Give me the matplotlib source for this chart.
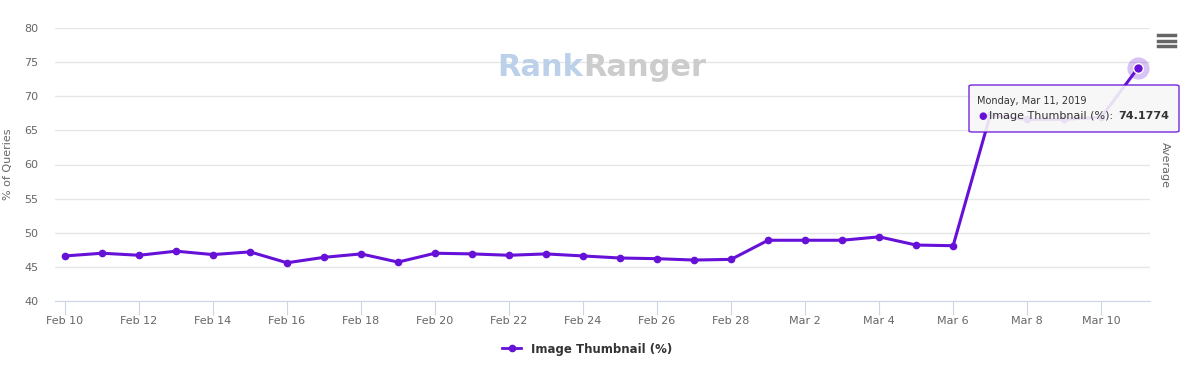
import numpy as np
import matplotlib
matplotlib.use("Agg")
import matplotlib.pyplot as plt
import matplotlib.dates as mdates
from matplotlib.patches import FancyBboxPatch
import datetime as dt

plt.rcParams["font.family"] = "DejaVu Sans"

# data
start = dt.date(2019, 2, 10)
dates = [start + dt.timedelta(days=i) for i in range(30)]
values = [46.6, 47.0, 46.7, 47.3, 46.8, 47.2, 45.6, 46.4, 46.9, 45.7,
          47.0, 46.9, 46.7, 46.9, 46.6, 46.3, 46.2, 46.0, 46.1, 48.9,
          48.9, 48.9, 49.4, 48.2, 48.1, 67.2, 66.6, 66.6, 66.9, 74.1774]
series_name = "Image Thumbnail (%)"
y_ticks = [40, 45, 50, 55, 60, 65, 70, 75, 80]

purple = "#6610d8"
label_c = "#666666"
grid_c = "#e6e6e6"
axis_c = "#ccd6eb"

fig = plt.figure(figsize=(11.89, 3.66), dpi=100)
ax = fig.add_axes([55 / 1189, 1 - 301 / 366, (1150 - 55) / 1189, (301 - 28) / 366])

x = mdates.date2num(dates)
ax.plot(x, values, color=purple, lw=2.2, marker="o", ms=4.5, zorder=3)
# hovered point halo
ax.plot(x[-1], values[-1], "o", ms=16, color=purple, alpha=0.25, mec="none", zorder=2)
ax.plot(x[-1], values[-1], "o", ms=7, color=purple, mec="white", mew=1, zorder=4)

ax.set_ylim(40, 80)
ax.set_xlim(x[0] - 0.27, x[-1] + 0.32)
ax.set_yticks(y_ticks)
ax.set_xticks(x[::2])
ax.xaxis.set_major_formatter(plt.FuncFormatter(
    lambda v, p: mdates.num2date(v).strftime("%b ") + str(mdates.num2date(v).day)))

ax.grid(axis="y", color=grid_c, lw=1)
ax.set_axisbelow(True)
for s in ["top", "right", "left"]:
    ax.spines[s].set_visible(False)
ax.spines["bottom"].set_color(axis_c)
ax.tick_params(axis="y", length=0, labelsize=8, labelcolor=label_c, pad=12)
ax.tick_params(axis="x", length=10, color=axis_c, labelsize=8, labelcolor=label_c, pad=1)

ax.set_ylabel("% of Queries", fontsize=8, color=label_c, labelpad=8)

# right side label
fig.text(1165 / 1189, 1 - 165 / 366, "Average", rotation=270, fontsize=8,
         color=label_c, ha="center", va="center")

# watermark
fig.text(583 / 1189, 1 - 68 / 366, "Rank", fontsize=22, fontweight="bold",
         color="#bcd0ea", ha="right", va="center", zorder=0)
fig.text(583 / 1189, 1 - 68 / 366, "Ranger", fontsize=22, fontweight="bold",
         color="#cccccc", ha="left", va="center", zorder=0)

# menu icon
for yy in [35, 40.5, 46]:
    fig.add_artist(plt.Line2D([1158 / 1189, 1175 / 1189], [1 - yy / 366] * 2,
                              color="#666666", lw=2.5))

# tooltip
tip = FancyBboxPatch((969 / 1189, 1 - 132 / 366), 210 / 1189, 47 / 366,
                     boxstyle="round,pad=0,rounding_size=0.003",
                     transform=fig.transFigure, facecolor="#f7f7f7",
                     edgecolor=purple, lw=1, alpha=0.9, zorder=10)
fig.add_artist(tip)
fig.text(977 / 1189, 1 - 101 / 366, "Monday, Mar 11, 2019", fontsize=7,
         color="#333333", va="center", zorder=11)
fig.text(978 / 1189, 1 - 116 / 366, "\u25cf", fontsize=7, color=purple,
         va="center", zorder=11)
name_t = fig.text(989 / 1189, 1 - 116 / 366, series_name + ": ", fontsize=8,
                  color="#333333", va="center", zorder=11)
fig.canvas.draw()
bb = name_t.get_window_extent()
fig.text((bb.x1 + 2) / 1189, 1 - 116 / 366, f"{values[-1]:.4f}", fontsize=8,
         fontweight="bold", color="#333333", va="center", ha="left", zorder=11)

# legend
leg = ax.legend([plt.Line2D([], [], color=purple, lw=2, marker="o", ms=4.5)],
                [series_name], loc="center", bbox_to_anchor=(587 / 1189, 1 - 349 / 366),
                bbox_transform=fig.transFigure, frameon=False, handlelength=1.6,
                prop={"size": 8.5, "weight": "bold"})
for t in leg.get_texts():
    t.set_color("#333333")

fig.savefig("out.png", dpi=100)
